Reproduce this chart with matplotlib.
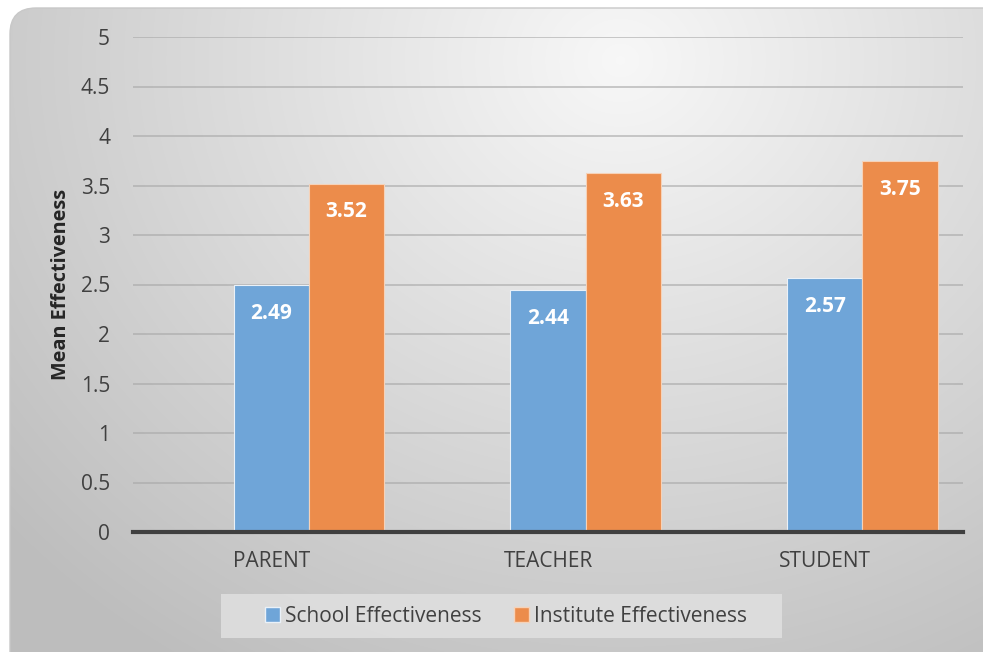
import numpy as np
import matplotlib
matplotlib.use("Agg")
import matplotlib.pyplot as plt
from matplotlib.patches import FancyBboxPatch, Patch, Rectangle

categories = ["PARENT", "TEACHER", "STUDENT"]
school = [2.49, 2.44, 2.57]
institute = [3.52, 3.63, 3.75]
series_names = ["School Effectiveness", "Institute Effectiveness"]
yticks = [0, 0.5, 1, 1.5, 2, 2.5, 3, 3.5, 4, 4.5, 5]

plt.rcParams['font.family'] = ['Open Sans', 'DejaVu Sans']

W, H = 983, 652
fig = plt.figure(figsize=(W / 100, H / 100), dpi=100)
fig.patch.set_facecolor('white')

# background gradient with rounded border
bg = fig.add_axes([0, 0, 1, 1])
bg.set_xlim(0, W)
bg.set_ylim(H, 0)
bg.axis('off')
yy, xx = np.mgrid[0:H, 0:W]
d = np.sqrt(((xx - 620) / 680.0) ** 2 + ((yy - 60) / 600.0) ** 2)
val = 0.97 - 0.19 * np.clip(d, 0, 1.2)
img = np.dstack([val, val, val])
im = bg.imshow(img, extent=[0, W, H, 0], zorder=0, interpolation='bilinear')
box = FancyBboxPatch((10, 8), W + 40, H + 40, boxstyle="round,pad=0,rounding_size=26",
                     facecolor='none', edgecolor='#c8c8c8', linewidth=1.0, zorder=1)
bg.add_patch(box)
im.set_clip_path(box)
# legend background box
bg.add_patch(Rectangle((221, 594), 561, 44, facecolor='#e0e0e0', edgecolor='none',
                       alpha=0.85, zorder=2))

# main axes: x 133..963, y 37..532 (pixels)
ax = fig.add_axes([133 / W, 1 - 532 / H, (963 - 133) / W, (532 - 37) / H])
ax.set_facecolor('none')
x = np.arange(len(categories))
bw = 0.272
b1 = ax.bar(x, school, bw, color='#6fa5d8', edgecolor='#eaf1f8', linewidth=0.8, zorder=3)
b2 = ax.bar(x + bw, institute, bw, color='#ec8c4b', edgecolor='#f6d2b8', linewidth=0.8, zorder=3)
for bars, vals in ((b1, school), (b2, institute)):
    for r, v in zip(bars, vals):
        ax.annotate(f"{v:.2f}", (r.get_x() + r.get_width() / 2, v), xytext=(0, -20.5),
                    textcoords='offset points', ha='center', va='center',
                    color='white', fontsize=15, fontweight='bold', zorder=4)
ax.set_xlim(-0.5, 2.5)
ax.set_ylim(0, 5)
ax.set_yticks(yticks)
ax.set_yticklabels([f"{t:g}" for t in yticks])
ax.set_xticks(x)
ax.set_xticklabels(categories)
ax.tick_params(axis='both', length=0, labelsize=15, colors='#404040')
ax.tick_params(axis='y', pad=16.5)
ax.tick_params(axis='x', pad=14)
ax.grid(axis='y', color='#a8a8a8', linewidth=1.2, alpha=0.7, zorder=1)
for s in ['top', 'right', 'left']:
    ax.spines[s].set_visible(False)
ax.spines['bottom'].set_color('#404040')
ax.spines['bottom'].set_linewidth(3)
ax.spines['bottom'].set_zorder(5)
ax.set_ylabel("Mean Effectiveness", fontsize=14.3, fontweight='bold', color='#262626', labelpad=7)

handles = [Patch(facecolor='#6fa5d8', edgecolor='#eaf1f8'), Patch(facecolor='#ec8c4b', edgecolor='#f6d2b8')]
leg = fig.legend(handles, series_names, loc='center', bbox_to_anchor=(506 / W, 1 - 616 / H),
                 ncol=2, fontsize=15, frameon=False, handlelength=0.7, handleheight=0.7,
                 handletextpad=0.25, columnspacing=1.55, borderpad=0.0, borderaxespad=0)
for t in leg.get_texts():
    t.set_color('#404040')

fig.savefig("out.png", dpi=100)
